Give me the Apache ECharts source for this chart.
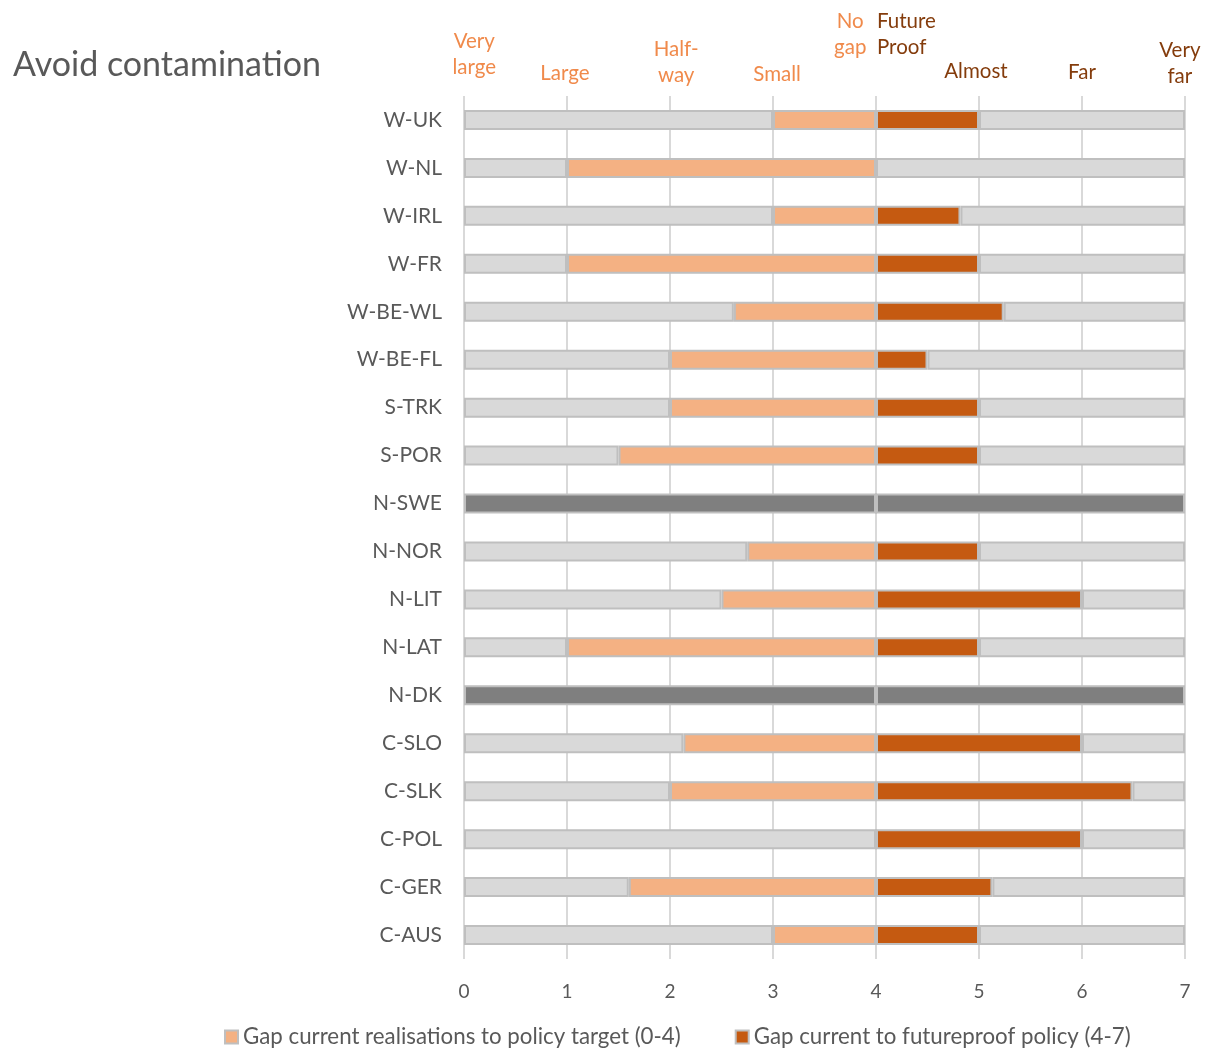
<!DOCTYPE html>
<html>
<head>
<meta charset="utf-8">
<style>
  html, body { margin: 0; padding: 0; background: #ffffff; }
  #chart { width: 1211px; height: 1053px; }
</style>
<script src="https://cdn.jsdelivr.net/npm/echarts@6/dist/echarts.min.js"></script>
</head>
<body>
<div id="chart"></div>
<script>
// Regions, top to bottom
const regions = ['W-UK', 'W-NL', 'W-IRL', 'W-FR', 'W-BE-WL', 'W-BE-FL', 'S-TRK', 'S-POR',
  'N-SWE', 'N-NOR', 'N-LIT', 'N-LAT', 'N-DK', 'C-SLO', 'C-SLK', 'C-POL', 'C-GER', 'C-AUS'];

// Current realisation on the 0-4 scale (policy target at 4); null = no data
const currentLevel = [3, 1, 3, 1, 2.62, 2, 2, 1.5, null, 2.75, 2.5, 1, null, 2.13, 2, 4, 1.6, 3];

// Position on the 4-7 scale (futureproof policy at 4); null = no data
const futureLevel = [5, 4, 4.82, 5, 5.24, 4.5, 5, 5, null, 5, 6, 5, null, 6, 6.49, 6, 5.13, 5];

const xTicks = [0, 1, 2, 3, 4, 5, 6, 7];

// Scale words above the plot
const gapWords = ['Very\nlarge', 'Large', 'Half-\nway', 'Small', 'No\ngap'];
const futureWords = ['Future\nProof', 'Almost', 'Far', 'Very\nfar'];

const seriesNames = ['Gap current realisations to policy target (0-4)', 'Gap current to futureproof policy (4-7)'];

const FONT = 'Lato, "Open Sans", sans-serif';
const GREY = '#d9d9d9';
const NODATA = '#7f7f7f';
const EDGE = '#bfbfbf';

const baseItem = (color) => ({ color: color, borderColor: EDGE, borderWidth: 2 });

// Stack segments: grey lead, gap to target, gap to futureproof, grey tail
const lead = currentLevel.map((v, i) => v === null
  ? { value: 4, itemStyle: baseItem(NODATA) } : v);
const gapTarget = currentLevel.map(v => v === null ? 0 : +(4 - v).toFixed(2));
const gapFuture = futureLevel.map(v => v === null ? 0 : +(v - 4).toFixed(2));
const tail = futureLevel.map(v => v === null
  ? { value: 3, itemStyle: baseItem(NODATA) } : +(7 - v).toFixed(2));

const chart = echarts.init(document.getElementById('chart'));

const mkSeries = (name, data, color) => ({
  name: name,
  type: 'bar',
  stack: 'all',
  barWidth: 20,
  data: data,
  itemStyle: baseItem(color),
  emphasis: { disabled: true },
  silent: true
});

chart.setOption({
  animation: false,
  textStyle: { fontFamily: FONT },
  title: {
    text: 'Avoid contamination',
    left: 8, top: 43,
    textStyle: { fontFamily: FONT, fontSize: 34, fontWeight: 'normal', color: '#595959' }
  },
  grid: { left: 464, right: 26, top: 96, bottom: 94 },
  legend: {
    data: seriesNames,
    bottom: 0,
    left: 219,
    itemWidth: 13, itemHeight: 13,
    itemGap: 54,
    icon: 'rect',
    textStyle: { fontSize: 22.3, color: '#595959', fontFamily: FONT }
  },
  xAxis: {
    type: 'value',
    min: 0, max: 7, interval: 1,
    axisLine: { show: false },
    axisTick: { show: false },
    axisLabel: { fontSize: 19, color: '#595959', margin: 23, fontFamily: FONT,
      customValues: xTicks },
    splitLine: { show: true, lineStyle: { color: '#d9d9d9', width: 2 } }
  },
  yAxis: {
    type: 'category',
    data: regions,
    inverse: true,
    axisLine: { show: false },
    axisTick: { show: false },
    axisLabel: { fontSize: 21, color: '#595959', margin: 22, fontFamily: FONT }
  },
  series: [
    mkSeries('lead', lead, GREY),
    mkSeries(seriesNames[0], gapTarget, '#f4b183'),
    mkSeries(seriesNames[1], gapFuture, '#c55a11'),
    mkSeries('tail', tail, GREY)
  ]
});

// Place the scale words over their scale positions
const gapAnchors = [0.1, 0.98, 2.06, 3.04, 3.75];
const gapBottoms = [80, 86, 88, 87, 60];
const futureAnchors = [4.0, 4.97, 6.0, 6.95];
const futureBottoms = [60, 84, 85, 89];
const futureAlign = ['left', 'center', 'center', 'center'];

const words = [];
gapWords.forEach((t, i) => {
  words.push({
    type: 'text',
    x: chart.convertToPixel({ xAxisIndex: 0 }, gapAnchors[i]),
    y: gapBottoms[i],
    style: { text: t, fill: '#f08a4b', font: '20.5px ' + FONT, align: 'center',
      verticalAlign: 'bottom', lineHeight: 26 }
  });
});
futureWords.forEach((t, i) => {
  words.push({
    type: 'text',
    x: chart.convertToPixel({ xAxisIndex: 0 }, futureAnchors[i]) + (futureAlign[i] === 'left' ? 1 : 0),
    y: futureBottoms[i],
    style: { text: t, fill: '#843c0c', font: '20.5px ' + FONT, align: futureAlign[i],
      verticalAlign: 'bottom', lineHeight: 26 }
  });
});
chart.setOption({ graphic: words });
</script>
</body>
</html>
